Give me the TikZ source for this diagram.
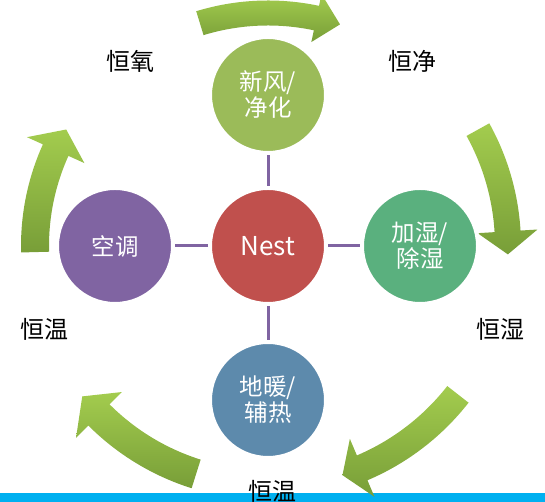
\documentclass[tikz,border=0pt]{standalone}
\usepackage{fontspec}
\setmainfont{Noto Sans CJK SC}
\usepackage{tikz}
\usetikzlibrary{shadows}

\definecolor{freshgreen}{HTML}{9BBB59}
\definecolor{nestred}{HTML}{C0504D}
\definecolor{airpurple}{HTML}{8064A2}
\definecolor{humidgreen}{HTML}{5AB07E}
\definecolor{floorblue}{HTML}{5D8AAC}
\definecolor{linkpurple}{HTML}{8064A2}
\definecolor{arrowlight}{HTML}{A3CC4E}
\definecolor{arrowdark}{HTML}{789E38}
\definecolor{barcyan}{HTML}{00B0F0}

\begin{document}
\begin{tikzpicture}[x=1pt,y=1pt,
	ball/.style={circle, draw=white, line width=4pt, inner sep=0pt, minimum size=116pt, text=white, align=center, font=\fontsize{23.5}{26}\selectfont, drop shadow={opacity=0.2, shadow xshift=0.5pt, shadow yshift=-1pt}},
	tag/.style={font=\fontsize{24}{28}\selectfont},
	link/.style={draw=linkpurple, line width=3pt},
	ringarrow/.style={top color=arrowlight, bottom color=arrowdark}]
	\useasboundingbox (0,0) rectangle (545,502);
	\fill[barcyan] (0,0) rectangle (545,9);
	\coordinate (hub) at (268,256);
	% curved arrows round the hub: tail, head base, tip angle, radius, half widths
	\foreach \tail/\base/\tip/\rad/\shaft/\head in {107/78/72/233/12.5/24.5, 29/3.5/-2/240/13/30, -38/-67/-72/241/13.5/31.5, -107.5/-135/-141/239/15/32.5, -178.5/-204.3/-210/233/14/31.5}{
		\pgfmathsetmacro\outr{\rad+\shaft}
		\pgfmathsetmacro\innr{\rad-\shaft}
		\pgfmathsetmacro\outh{\rad+\head}
		\pgfmathsetmacro\innh{\rad-\head}
		\shade[ringarrow, shift={(hub)}] (\tail:\outr pt) arc[start angle=\tail, end angle=\base, radius=\outr pt] -- (\base:\outh pt) -- (\tip:\rad pt) -- (\base:\innh pt) -- (\base:\innr pt) arc[start angle=\base, end angle=\tail, radius=\innr pt] -- cycle;
	}
	\node[ball, fill=freshgreen] (fresh) at (268,407) {新风/\\净化};
	\node[ball, fill=nestred, font=\fontsize{26}{30}\selectfont] (nest) at (hub) {Nest};
	\node[ball, fill=floorblue] (floor) at (268,102) {地暖/\\辅热};
	\node[ball, fill=airpurple] (air) at (115,256) {空调};
	\node[ball, fill=humidgreen] (humid) at (420,256) {加湿/\\除湿};
	\draw[link] (nest) -- (fresh);
	\draw[link] (nest) -- (floor);
	\draw[link] (nest) -- (air);
	\draw[link] (nest) -- (humid);
	\node[tag] (oxygen) at (130,441) {恒氧};
	\node[tag] (clean) at (412,441) {恒净};
	\node[tag] (warmleft) at (44,173) {恒温};
	\node[tag] (damp) at (500,173) {恒湿};
	\node[tag] (warmbottom) at (272,11) {恒温};
\end{tikzpicture}
\end{document}
